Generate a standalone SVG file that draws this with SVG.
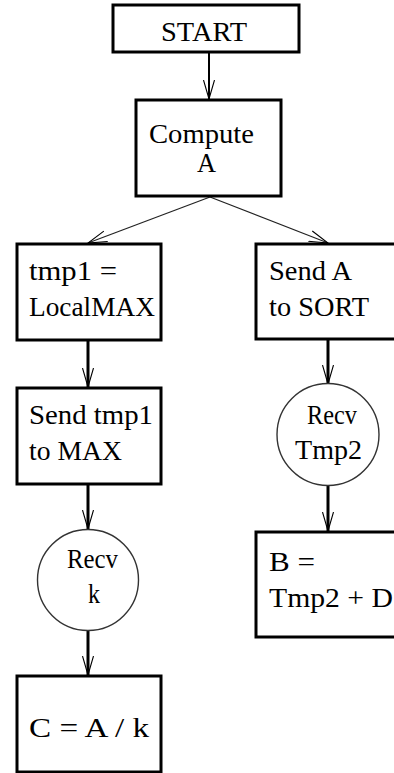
<svg xmlns="http://www.w3.org/2000/svg" width="394" height="773" viewBox="0 0 394 773">
<style>
.box{fill:#fff;stroke:#000;stroke-width:3}
.circ{fill:#fff;stroke:#333;stroke-width:1.4}
.t{font-family:"Liberation Serif","Times New Roman",serif;font-size:27px;fill:#000}
.thick{stroke:#000;stroke-width:3;fill:none}
.mid{stroke:#000;stroke-width:2;fill:none}
.thin{stroke:#222;stroke-width:1.2;fill:none}
</style>
<defs>
<marker id="v" markerUnits="userSpaceOnUse" markerWidth="20" markerHeight="14" viewBox="0 0 20 14" refX="19" refY="7" orient="auto">
<path d="M0,1.5 L19,7 L0,12.5" fill="none" stroke="#000" stroke-width="1.1"/>
</marker>
</defs>
<g id="connectors">
<line class="mid" x1="209" y1="52" x2="209" y2="99" marker-end="url(#v)"/>
<line class="thin" x1="210" y1="197" x2="88" y2="243" marker-end="url(#v)"/>
<line class="thin" x1="210" y1="197" x2="328" y2="243" marker-end="url(#v)"/>
<line class="thick" x1="88" y1="340" x2="88" y2="387" marker-end="url(#v)"/>
<line class="thick" x1="88" y1="484" x2="88" y2="529" marker-end="url(#v)"/>
<line class="thick" x1="88" y1="631" x2="88" y2="675" marker-end="url(#v)"/>
<line class="thick" x1="328" y1="339" x2="328" y2="384" marker-end="url(#v)"/>
<line class="thick" x1="328" y1="485" x2="328" y2="531" marker-end="url(#v)"/>
</g>
<g id="start">
<rect class="box" x="113" y="5" width="186" height="47"/>
<text class="t" x="161" y="41" textLength="86" lengthAdjust="spacingAndGlyphs">START</text>
</g>
<g id="compute">
<rect class="box" x="136" y="100" width="145" height="96"/>
<text class="t" x="149" y="143" textLength="105" lengthAdjust="spacingAndGlyphs">Compute</text>
<text class="t" x="197" y="172" textLength="19" lengthAdjust="spacingAndGlyphs">A</text>
</g>
<g id="tmp1">
<rect class="box" x="17" y="244" width="144" height="96"/>
<text class="t" x="29" y="280" textLength="88" lengthAdjust="spacingAndGlyphs">tmp1 =</text>
<text class="t" x="29" y="316" textLength="126" lengthAdjust="spacingAndGlyphs">LocalMAX</text>
</g>
<g id="sendtmp1">
<rect class="box" x="17" y="388" width="144" height="96"/>
<text class="t" x="29" y="424" textLength="124" lengthAdjust="spacingAndGlyphs">Send tmp1</text>
<text class="t" x="29" y="460" textLength="93" lengthAdjust="spacingAndGlyphs">to MAX</text>
</g>
<g id="recvk">
<circle class="circ" cx="88" cy="580" r="50.5"/>
<text class="t" x="67" y="568" textLength="51" lengthAdjust="spacingAndGlyphs">Recv</text>
<text class="t" x="88" y="603" textLength="12" lengthAdjust="spacingAndGlyphs">k</text>
</g>
<g id="cak">
<rect class="box" x="17" y="676" width="144" height="96"/>
<text class="t" x="29" y="737" textLength="120" lengthAdjust="spacingAndGlyphs">C = A / k</text>
</g>
<g id="senda">
<rect class="box" x="256" y="244" width="145" height="95"/>
<text class="t" x="269" y="280" textLength="83" lengthAdjust="spacingAndGlyphs">Send A</text>
<text class="t" x="269" y="316" textLength="100" lengthAdjust="spacingAndGlyphs">to SORT</text>
</g>
<g id="recvtmp2">
<circle class="circ" cx="328" cy="434.5" r="51"/>
<text class="t" x="307" y="424" textLength="50" lengthAdjust="spacingAndGlyphs">Recv</text>
<text class="t" x="295" y="459" textLength="67" lengthAdjust="spacingAndGlyphs">Tmp2</text>
</g>
<g id="b">
<rect class="box" x="256" y="532" width="145" height="105"/>
<text class="t" x="269" y="571" textLength="46" lengthAdjust="spacingAndGlyphs">B =</text>
<text class="t" x="269" y="607" textLength="124" lengthAdjust="spacingAndGlyphs">Tmp2 + D</text>
</g>
</svg>
